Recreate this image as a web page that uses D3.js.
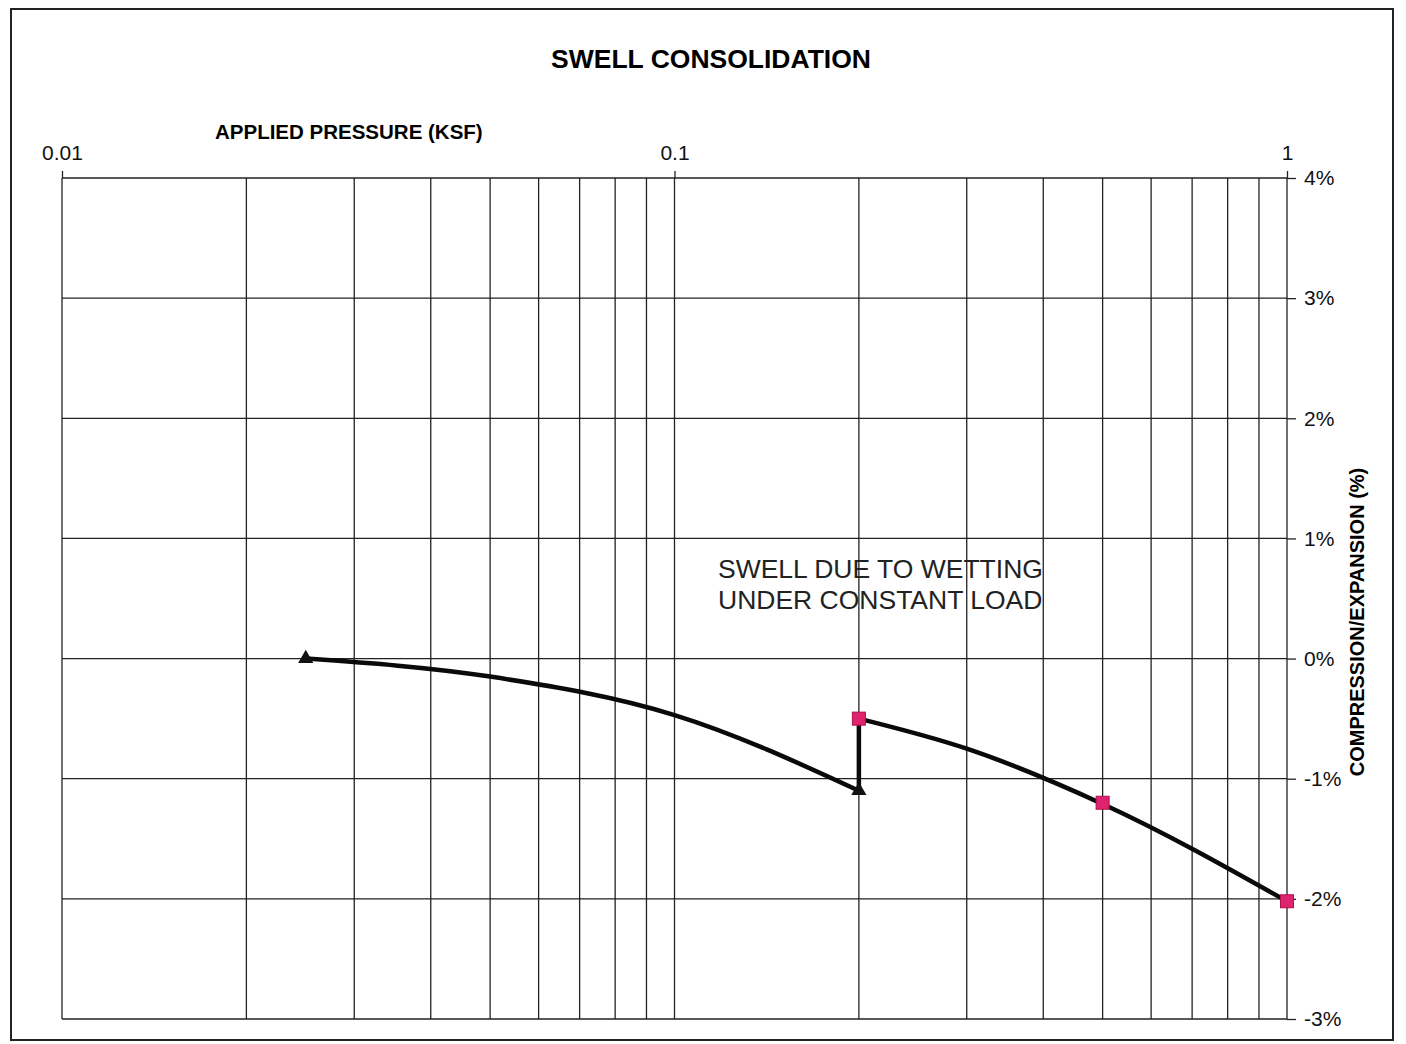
<!DOCTYPE html>
<html>
<head>
<meta charset="utf-8">
<script src="https://cdn.jsdelivr.net/npm/d3@7"></script>
<style>
  body { margin: 0; background: #fff; }
  svg { font-family: "Liberation Sans", Arial, sans-serif; }
  .grid line { stroke: #222; stroke-width: 1.3; }
  .axis path { display: none; }
  .axis line { stroke: #222; stroke-width: 1.3; }
  .axis text { fill: #111; font-size: 21px; }
</style>
</head>
<body>
<div id="chart"><svg></svg></div>
<script>
// x: applied pressure (ksf), y: compression/expansion (%)
var xTicks = [0.01, 0.1, 1];
var yTicks = [-3, -2, -1, 0, 1, 2, 3, 4];

// dry loading, points
var dryCurve = [[0.025, 0], [0.05, -0.15], [0.1, -0.47], [0.2, -1.1]];
var dryMarks = [[0.025, 0], [0.2, -1.1]];

// wetting under constant load
var wetJump = [[0.2, -1.1], [0.2, -0.5]];

// loading after wetting
var wetCurve = [[0.2, -0.5], [0.3, -0.75], [0.5, -1.21], [1, -2.02]];
var wetMarks = [[0.2, -0.5], [0.5, -1.2], [1, -2.02]];

var W = 1406, H = 1044;
var margin = { top: 178, right: 1287, bottom: 1019, left: 62 };

var svg = d3.select("#chart svg").
  attr("width", W).
  attr("height", H);

// outer frame
svg.append("rect").
  attr("x", 11).attr("y", 9).
  attr("width", 1382).attr("height", 1031).
  attr("fill", "none").
  attr("stroke", "#222").
  attr("stroke-width", 2);

var x = d3.scaleLog().domain([0.01, 1]).range([margin.left, margin.right]);
var y = d3.scaleLinear().domain([-3, 4]).range([margin.bottom, margin.top]);

// minor + major log grid
var xGrid = [];
[0.01, 0.1].forEach(function(base) {
  for (var k = 1; k < 10; k++) xGrid.push(base * k);
});
xGrid.push(1);

var grid = svg.append("g").attr("class", "grid");

grid.selectAll(".gx").data(xGrid).enter().append("line").
  attr("x1", function(d) { return x(d); }).
  attr("x2", function(d) { return x(d); }).
  attr("y1", margin.top).
  attr("y2", margin.bottom);

grid.selectAll(".gy").data(yTicks).enter().append("line").
  attr("x1", margin.left).
  attr("x2", margin.right).
  attr("y1", function(d) { return y(d); }).
  attr("y2", function(d) { return y(d); });

var xAxis = d3.axisTop(x).
  tickValues(xTicks).
  tickFormat(d3.format("")).
  tickSize(7).
  tickPadding(11);

svg.append("g").
  attr("class", "axis").
  attr("transform", "translate(0," + margin.top + ")").
  call(xAxis);

var yAxis = d3.axisRight(y).
  tickValues(yTicks).
  tickFormat(function(d) { return d + "%"; }).
  tickSize(9).
  tickPadding(8);

svg.append("g").
  attr("class", "axis").
  attr("transform", "translate(" + margin.right + ",0)").
  call(yAxis);

// data lines
var line = d3.line().
  x(function(d) { return x(d[0]); }).
  y(function(d) { return y(d[1]); }).
  curve(d3.curveMonotoneX);

[dryCurve, wetCurve].forEach(function(ds) {
  svg.append("path").
    datum(ds).
    attr("fill", "none").
    attr("stroke", "#0a0a0a").
    attr("stroke-width", 4.5).
    attr("stroke-linejoin", "round").
    attr("d", line);
});

svg.append("path").
  datum(wetJump).
  attr("fill", "none").
  attr("stroke", "#0a0a0a").
  attr("stroke-width", 4.5).
  attr("d", d3.line().
    x(function(d) { return x(d[0]); }).
    y(function(d) { return y(d[1]); }));

var tri = d3.symbol().type(d3.symbolTriangle).size(100);
svg.selectAll(".tri").data(dryMarks).enter().append("path").
  attr("transform", function(d) { return "translate(" + x(d[0]) + "," + y(d[1]) + ")"; }).
  attr("d", tri).
  attr("fill", "#111");

svg.selectAll(".sq").data(wetMarks).enter().append("rect").
  attr("x", function(d) { return x(d[0]) - 6.5; }).
  attr("y", function(d) { return y(d[1]) - 6.5; }).
  attr("width", 13).
  attr("height", 13).
  attr("fill", "#e0236f").
  attr("stroke", "#b0104d").
  attr("stroke-width", 1);

// texts
svg.append("text").
  attr("x", 711).
  attr("y", 68).
  attr("text-anchor", "middle").
  attr("font-weight", "bold").
  attr("font-size", 26.5).
  text("SWELL CONSOLIDATION");

svg.append("text").
  attr("x", 215).
  attr("y", 139).
  attr("font-weight", "bold").
  attr("font-size", 20.5).
  text("APPLIED PRESSURE (KSF)");

svg.append("text").
  attr("transform", "translate(1364,622) rotate(-90)").
  attr("text-anchor", "middle").
  attr("font-weight", "bold").
  attr("font-size", 20).
  text("COMPRESSION/EXPANSION (%)");

var note = svg.append("text").
  attr("font-size", 26.5).
  attr("fill", "#222");
note.append("tspan").attr("x", 718).attr("y", 578).text("SWELL DUE TO WETTING");
note.append("tspan").attr("x", 718).attr("y", 609).text("UNDER CONSTANT LOAD");
</script>
</body>
</html>
